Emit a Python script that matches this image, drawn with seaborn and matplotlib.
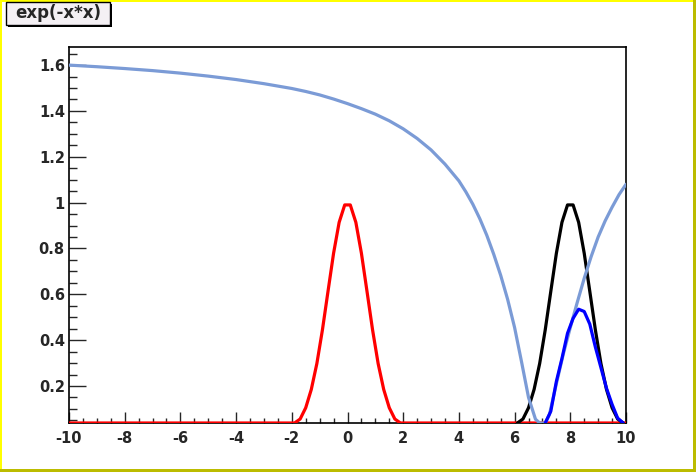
import numpy as np
import pandas as pd
import matplotlib
matplotlib.use('Agg')
import matplotlib.pyplot as plt
import seaborn as sns
from matplotlib.ticker import MultipleLocator, FuncFormatter
from matplotlib.patches import Rectangle

# data
red_x = [-10, -2.1, -1.9, -1.7, -1.5, -1.3, -1.1, -0.9, -0.7, -0.5, -0.3, -0.1,
         0.1, 0.3, 0.5, 0.7, 0.9, 1.1, 1.3, 1.5, 1.7, 1.9, 2.1, 10]
red_y = [0.0, 0.012, 0.027, 0.056, 0.105, 0.185, 0.298, 0.445, 0.613, 0.779, 0.914, 0.99,
         0.99, 0.914, 0.779, 0.613, 0.445, 0.298, 0.185, 0.105, 0.056, 0.027, 0.012, 0.0]

black_x = [6.1, 6.3, 6.5, 6.7, 6.9, 7.1, 7.3, 7.5, 7.7, 7.9,
           8.1, 8.3, 8.5, 8.7, 8.9, 9.1, 9.3, 9.5, 9.7, 9.9]
black_y = [0.027, 0.056, 0.105, 0.185, 0.298, 0.445, 0.613, 0.779, 0.914, 0.99,
           0.99, 0.914, 0.779, 0.613, 0.445, 0.298, 0.185, 0.105, 0.056, 0.027]

light_x = [-10, -9, -8, -7, -6, -5, -4, -3, -2, -1.5, -1, -0.5, 0, 0.5, 1, 1.5, 2, 2.5,
           3, 3.5, 4, 4.25, 4.5, 4.75, 5, 5.25, 5.5, 5.75, 6, 6.25, 6.5, 6.75, 6.9,
           7.0, 7.1, 7.25, 7.5, 7.75, 8.0, 8.25, 8.5, 8.75, 9.0, 9.25, 9.5, 9.75, 10]
light_y = [1.600, 1.593, 1.585, 1.576, 1.565, 1.552, 1.537, 1.519, 1.498, 1.485, 1.470,
           1.452, 1.432, 1.410, 1.386, 1.357, 1.322, 1.280, 1.230, 1.168, 1.095, 1.047,
           0.993, 0.930, 0.858, 0.775, 0.683, 0.578, 0.455, 0.305, 0.150, 0.055, 0.010,
           0.010, 0.030, 0.075, 0.210, 0.340, 0.455, 0.565, 0.670, 0.765, 0.850, 0.920,
           0.980, 1.035, 1.080]

blue_x = [7.1, 7.3, 7.5, 7.7, 7.9, 8.1, 8.3, 8.5, 8.7, 8.9, 9.1, 9.3, 9.5, 9.7, 9.9]
blue_y = [0.02, 0.09, 0.22, 0.32, 0.43, 0.495, 0.535, 0.525, 0.47, 0.37, 0.28, 0.19,
          0.12, 0.06, 0.02]

ymin, ymax = 0.0386, 1.679

sns.set_style('white')
plt.rcParams['font.family'] = ['DejaVu Sans']

fig = plt.figure(figsize=(6.96, 4.72), dpi=100)
fig.patch.set_facecolor('white')
ax = fig.add_axes([69 / 696, 1 - 423 / 472, 557 / 696, 376 / 472])

series = [(red_x, red_y, '#ff0000'), (black_x, black_y, '#000000'),
          (light_x, light_y, '#7b9bd6'), (blue_x, blue_y, '#0000ff')]
for i, (xs, ys, col) in enumerate(series):
    # ROOT draws values under the minimum on the bottom of the frame
    df = pd.DataFrame({'x': xs, 'y': np.maximum(ys, ymin)})
    sns.lineplot(data=df, x='x', y='y', sort=False, estimator=None, color=col,
                 linewidth=2.3, ax=ax, zorder=3 + i)

ax.set_xlim(-10, 10)
ax.set_ylim(ymin, ymax)
ax.set_xlabel('')
ax.set_ylabel('')

for s in ax.spines.values():
    s.set_visible(True)
    s.set_color('black')
    s.set_linewidth(1.2)

ax.xaxis.set_major_locator(MultipleLocator(2))
ax.xaxis.set_minor_locator(MultipleLocator(0.5))
ax.yaxis.set_major_locator(MultipleLocator(0.2))
ax.yaxis.set_minor_locator(MultipleLocator(0.05))
fmt = FuncFormatter(lambda v, p: '{:g}'.format(round(v, 3)))
ax.xaxis.set_major_formatter(fmt)
ax.yaxis.set_major_formatter(fmt)

ax.tick_params(axis='x', which='major', direction='in', length=7.9, width=1,
               pad=5.5, labelsize=10.5, bottom=True, top=False)
ax.tick_params(axis='x', which='minor', direction='in', length=3.6, width=1,
               bottom=True, top=False)
ax.tick_params(axis='y', which='major', direction='in', length=12.2, width=1,
               pad=3, labelsize=10.5, left=True, right=False)
ax.tick_params(axis='y', which='minor', direction='in', length=5.8, width=1,
               left=True, right=False)
for lab in ax.get_xticklabels() + ax.get_yticklabels():
    lab.set_fontweight('bold')

W, H = 696, 472


def px_rect(x0, y0, x1, y1, **kw):
    return Rectangle((x0 / W, 1 - y1 / H), (x1 - x0) / W, (y1 - y0) / H,
                     transform=fig.transFigure, **kw)


# canvas bevel border
fig.add_artist(px_rect(0, 0, 2, H, color='#ffff00', lw=0))
fig.add_artist(px_rect(0, 0, W, 2, color='#ffff00', lw=0))
fig.add_artist(px_rect(W - 3, 0, W, H, color='#bcbc00', lw=0))
fig.add_artist(px_rect(0, H - 3, W, H, color='#bcbc00', lw=0))

# title box with shadow
fig.add_artist(px_rect(8, 4, 112, 27, facecolor='black', lw=0))
fig.add_artist(px_rect(6, 2, 110, 25, facecolor='#f4f0f4', edgecolor='black', lw=1))
fig.text(58 / W, 1 - 13.5 / H, 'exp(-x*x)', ha='center', va='center',
         fontsize=12, fontweight='bold')

fig.savefig('out.png', dpi=100)
